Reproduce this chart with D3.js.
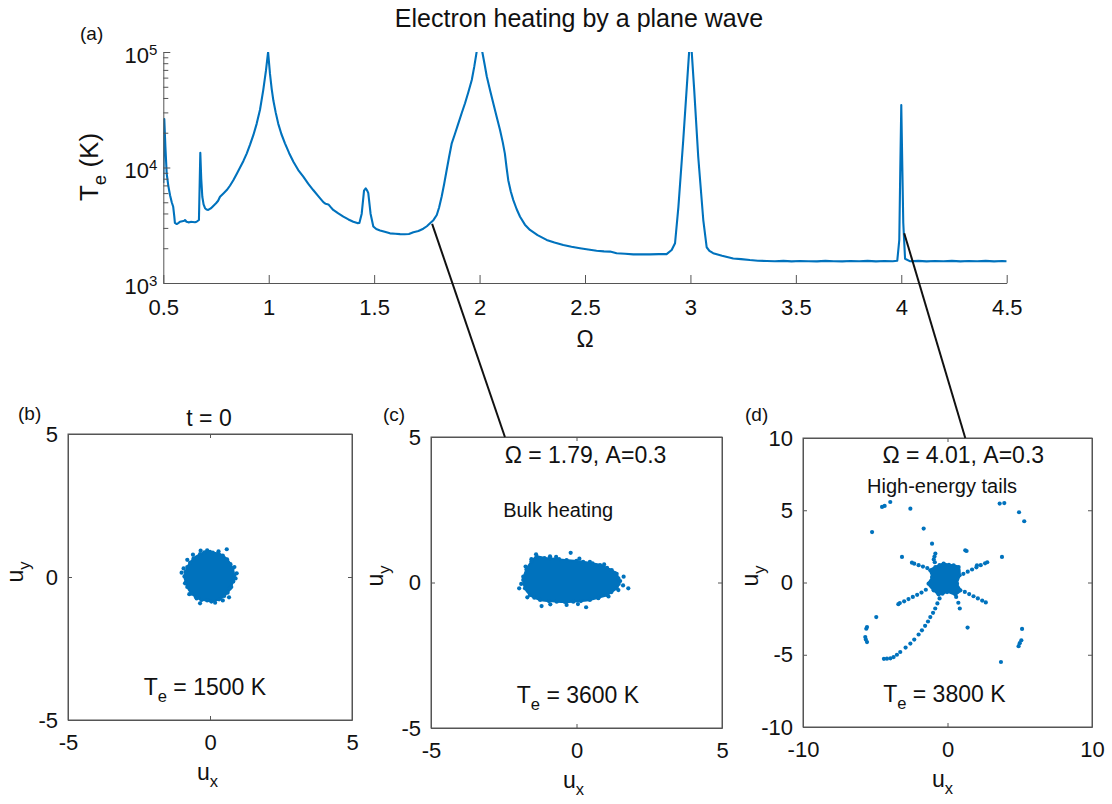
<!DOCTYPE html>
<html><head><meta charset="utf-8">
<script src="https://cdn.jsdelivr.net/npm/d3@7"></script>
<style>
body{margin:0;background:#fff}
svg text{font-family:"Liberation Sans",Arial,Helvetica,sans-serif;fill:#111}
</style>
</head><body>
<svg id="chart" width="1112" height="804"></svg>
<script>
// ---------------- data: panel (a) ----------------
const omega = [0.500,0.5047,0.510,0.516,0.524,0.532,0.540,0.547,0.552,0.555,0.5636,0.571,0.579,0.590,0.600,0.603,0.610,0.619,0.630,0.640,0.650,0.658,0.669,0.6755,0.680,0.685,0.691,0.698,0.705,0.713,0.725,0.737,0.750,0.760,0.769,0.785,0.801,0.816,0.832,0.848,0.864,0.880,0.8955,0.911,0.927,0.943,0.9586,0.974,0.987,0.997,1.006,1.014,1.022,1.033,1.045,1.060,1.077,1.097,1.117,1.140,1.164,1.187,1.211,1.235,1.259,1.270,1.283,1.292,1.306,1.330,1.354,1.378,1.401,1.420,1.430,1.441,1.452,1.460,1.466,1.472,1.483,1.496,1.510,1.528,1.550,1.575,1.600,1.623,1.645,1.665,1.686,1.710,1.733,1.750,1.765,1.781,1.797,1.808,1.820,1.832,1.844,1.856,1.868,1.883,1.899,1.915,1.931,1.947,1.963,1.975,1.986,2.000,2.013,2.024,2.034,2.050,2.065,2.081,2.097,2.110,2.120,2.128,2.136,2.148,2.160,2.176,2.192,2.215,2.239,2.275,2.318,2.355,2.397,2.436,2.476,2.515,2.555,2.590,2.619,2.650,2.690,2.729,2.770,2.808,2.850,2.887,2.911,2.927,2.943,2.966,2.985,2.995,3.005,3.018,3.037,3.061,3.077,3.090,3.108,3.150,3.203,3.240,3.282,3.320,3.362,3.400,3.441,3.480,3.520,3.560,3.600,3.640,3.680,3.720,3.760,3.800,3.840,3.880,3.920,3.960,3.981,3.9906,3.995,4.000,4.005,4.0095,4.018,4.040,4.080,4.120,4.160,4.200,4.240,4.280,4.320,4.360,4.400,4.440,4.480,4.500];
const tempK = [7350,26300,15000,8900,6900,5750,5000,4570,3800,3310,3240,3300,3390,3430,3460,3510,3390,3350,3380,3370,3360,3390,3510,13400,7940,5580,4800,4440,4330,4290,4420,4650,4900,5150,5580,5960,6380,6950,7760,8800,10000,11400,13200,15700,19050,24000,31600,46800,69200,100000,64600,48000,38000,30000,24000,19500,16200,13300,11200,9500,8320,7250,6380,5650,5010,4850,4790,4580,4290,4000,3750,3550,3390,3300,3310,3980,6310,6610,6350,6030,3980,3090,2930,2850,2780,2690,2670,2650,2640,2660,2750,2820,2950,3100,3290,3500,3880,4500,5580,7200,9510,12500,16200,19500,24000,29500,36000,45000,57300,75000,100000,135000,100000,78000,61700,46500,36000,27500,21100,16500,13200,10000,7760,6200,5220,4350,3750,3200,2880,2600,2360,2240,2130,2060,2000,1950,1905,1880,1870,1810,1790,1770,1775,1770,1780,1780,1930,2210,4570,17300,57300,108000,108000,46800,12400,3510,2040,1900,1810,1720,1630,1610,1580,1560,1550,1545,1555,1540,1550,1545,1540,1555,1545,1540,1550,1545,1555,1540,1550,1545,1560,2360,8910,34700,10000,3310,1620,1545,1555,1540,1550,1545,1555,1540,1550,1545,1555,1540,1550,1545];
const xTicksA = [0.5,1,1.5,2,2.5,3,3.5,4,4.5];
const yTicksA = [1e3,1e4,1e5];
const yMinorA = [2e3,3e3,4e3,5e3,6e3,7e3,8e3,9e3,2e4,3e4,4e4,5e4,6e4,7e4,8e4,9e4];
// connector anchors: [omega, Te] on panel (a) -> [ux, uy] on target panel
const link1From = [1.775, 3250], link1To = [-2.46, 5];
const link2From = [4.014, 2700], link2To = [1.23, 10];

// ---------------- data: panel (b) ----------------
const ticksB = [-5,0,5];
const bCloud = [[0.85,0.05],[0.8,0.3],[0.72,0.45],[0.6,0.62],[0.45,0.75],[0.3,0.82],[0.1,0.85],[0.0,0.88],[-0.2,0.86],[-0.35,0.8],[-0.58,0.65],[-0.7,0.5],[-0.8,0.35],[-0.86,0.18],[-0.9,0.02],[-0.85,-0.2],[-0.8,-0.35],[-0.65,-0.58],[-0.5,-0.7],[-0.3,-0.8],[-0.1,-0.82],[0.05,-0.86],[0.32,-0.78],[0.5,-0.66],[0.62,-0.55],[0.75,-0.35],[0.8,-0.15]];
const bDots = [[-1.0,0.15],[-0.33,0.92],[0.59,0.97],[0.94,0.13],[0.82,-0.16],[0.7,-0.4],[0.67,-0.71],[-0.35,-0.92],[0.18,-0.9],[-0.88,-0.22],[-0.73,-0.6],[-0.47,-0.75],[-0.8,0.6],[0.3,0.9],[-0.1,0.93],[0.86,0.35],[0.9,-0.05],[-0.93,0.3],[-0.6,0.78],[0.45,-0.82]];

// ---------------- data: panel (c) ----------------
const ticksC = [-5,0,5];
const cCloud = [[-1.83,0.09],[-1.72,0.45],[-1.55,0.72],[-1.37,0.89],[-1.1,0.84],[-0.91,0.83],[-0.6,0.8],[-0.34,0.77],[0.0,0.74],[0.23,0.71],[0.55,0.66],[0.81,0.6],[1.05,0.5],[1.21,0.43],[1.38,0.3],[1.44,0.14],[1.45,-0.05],[1.38,-0.2],[1.2,-0.33],[1.04,-0.43],[0.75,-0.52],[0.46,-0.6],[0.15,-0.64],[-0.11,-0.66],[-0.4,-0.67],[-0.68,-0.66],[-0.95,-0.64],[-1.25,-0.6],[-1.45,-0.52],[-1.6,-0.43],[-1.77,-0.2]];
const cDots = [[-1.97,-0.2],[1.78,-0.2],[-0.2,1.02],[-1.39,0.97],[-0.91,0.9],[0.33,-0.85],[-0.34,-0.77],[-1.2,-0.81],[-1.69,-0.51],[1.44,-0.26],[1.5,0.05],[1.32,0.32],[0.75,-0.54],[-1.83,0.2],[0.46,0.71],[-1.9,-0.05],[1.6,-0.1],[-1.55,0.8],[-0.7,0.88],[0.1,0.82],[0.95,0.62],[-0.9,-0.75],[0.05,-0.74],[1.1,-0.48],[-1.75,0.55],[1.62,0.2]];

// ---------------- data: panel (d) ----------------
const xTicksD = [-10,0,10];
const yTicksD = [-10,-5,0,5,10];
const dCloud = [[-0.84,1.07],[-0.55,1.2],[-0.27,1.31],[0.1,1.22],[0.42,1.19],[0.77,1.07],[0.84,0.5],[0.66,-0.08],[0.89,-0.54],[0.54,-0.82],[-0.03,-0.66],[-0.35,-0.78],[-0.62,-0.82],[-0.96,-0.54],[-1.31,-0.08],[-1.07,0.38],[-1.19,0.84]];
const dDots = [
  // up-left arm
  [-1.4,1.0],[-1.7,1.1],[-2.0,1.2],[-2.3,1.3],[-2.46,1.37],
  // up arm
  [-0.84,2.0],[-0.9,1.8],[-0.95,1.6],[-0.88,1.4],
  // right arm
  [1.1,0.6],[1.4,0.75],[1.7,0.9],[2.0,1.05],[2.04,1.19],[2.3,1.2],[2.6,1.33],[2.75,1.4],
  // down-left arm
  [-1.5,-0.5],[-1.8,-0.7],[-2.1,-0.85],[-2.4,-1.0],[-2.7,-1.15],[-3.0,-1.3],[-3.3,-1.42],[-3.4,-1.5],
  // down-right arm
  [1.2,-0.65],[1.5,-0.8],[1.8,-0.95],[2.1,-1.1],[2.4,-1.25],[2.65,-1.38],
  // short down arm
  [0.6,-1.0],[0.75,-1.4],[0.85,-1.8],
  // long curved arm
  [-0.55,-1.1],[-0.7,-1.45],[-0.85,-1.8],[-1.0,-2.1],[-1.19,-2.39],[-1.35,-2.7],[-1.55,-3.0],[-1.77,-3.31],[-2.0,-3.6],[-2.3,-3.95],[-2.57,-4.23],[-2.9,-4.5],[-3.27,-4.81],[-3.5,-5.0],[-3.73,-5.16],[-3.95,-5.25],[-4.19,-5.27],[-4.4,-5.28],
  // isolated particles
  [-4.53,5.23],[-4.35,5.3],[-3.96,5.57],[-2.57,5.11],[-5.22,3.49],[-1.65,3.73],[-1.07,2.69],[-3.15,1.77],
  [1.23,2.23],[1.32,2.18],[3.77,1.77],[3.61,5.46],[3.93,5.5],[4.95,4.86],[5.31,4.24],
  [-4.93,-2.39],[-5.57,-3.08],[-5.62,-3.2],[-5.69,-3.77],[-5.65,-3.95],[-5.57,-4.12],
  [1.39,-3.12],[5.16,-3.21],[5.11,-4.0],[5.0,-4.2],[4.92,-4.41],[3.7,-5.5]
];

// ---------------- drawing ----------------
const svg = d3.select("#chart");
const blue = "#0072BD";
const axisCol = "#555";
const tickFont = 22;
const plainFmt = d => String(d);

function styleAxis(g){
  g.selectAll("path.domain").attr("stroke",axisCol).attr("stroke-width",1);
  g.selectAll(".tick line").attr("stroke",axisCol).attr("stroke-width",1);
  g.selectAll(".tick text").attr("font-size",tickFont).attr("fill","#1a1a1a")
    .style("font-family",'"Liberation Sans",Arial,sans-serif');
  g.attr("font-family",null).attr("font-size",null);
}

// subscripted text helper
function subText(parent, x, y, main, sub, size, rest, anchor, rotate){
  const t = parent.append("text").attr("font-size",size).attr("text-anchor",anchor||"start");
  if(rotate){ t.attr("transform",`translate(${x},${y}) rotate(-90)`); }
  else { t.attr("x",x).attr("y",y); }
  const dsub = Math.round(size*0.3);
  t.append("tspan").text(main);
  t.append("tspan").attr("font-size",size*0.72).attr("dy",dsub).text(sub);
  if(rest){ t.append("tspan").attr("dy",-dsub).text(rest); }
  return t;
}

// ===== panel (a) =====
const A = {l:163.3, r:1006.7, t:52, b:283};
const xA = d3.scaleLinear().domain([0.5,4.5]).range([A.l,A.r]);
const yA = d3.scaleLog().domain([1e3,1e5]).range([A.b,A.t]);

svg.append("defs").append("clipPath").attr("id","clipA")
  .append("rect").attr("x",A.l).attr("y",A.t).attr("width",A.r-A.l).attr("height",A.b-A.t);

const gA = svg.append("g");
gA.append("path").datum(d3.zip(omega,tempK))
  .attr("clip-path","url(#clipA)")
  .attr("fill","none").attr("stroke",blue).attr("stroke-width",2.1)
  .attr("stroke-linejoin","round")
  .attr("d", d3.line().x(d=>xA(d[0])).y(d=>yA(d[1])));

const axXA = gA.append("g").attr("transform",`translate(0,${A.b})`)
  .call(d3.axisBottom(xA).tickValues(xTicksA).tickFormat(plainFmt).tickSizeInner(-8).tickSizeOuter(0).tickPadding(16));
styleAxis(axXA);

const axYA = gA.append("g").attr("transform",`translate(${A.l},0)`)
  .call(d3.axisLeft(yA).tickValues(yTicksA).tickFormat("").tickSizeInner(-7).tickSizeOuter(0));
styleAxis(axYA);
const axYAm = gA.append("g").attr("transform",`translate(${A.l},0)`)
  .call(d3.axisLeft(yA).tickValues(yMinorA).tickFormat("").tickSizeInner(-5).tickSizeOuter(0));
axYAm.select("path.domain").remove();
styleAxis(axYAm);

yTicksA.forEach(v=>{
  const t = gA.append("text").attr("x",A.l-6).attr("y",yA(v)+10.5)
    .attr("text-anchor","end").attr("font-size",22).attr("fill","#1a1a1a");
  t.append("tspan").text("10");
  t.append("tspan").attr("font-size",15).attr("dy",-8).text(Math.round(Math.log10(v)));
});

svg.append("text").attr("x",579).attr("y",27).attr("text-anchor","middle")
  .attr("font-size",25).text("Electron heating by a plane wave");
svg.append("text").attr("x",80).attr("y",40).attr("font-size",19).text("(a)");
svg.append("text").attr("x",585).attr("y",347).attr("text-anchor","middle")
  .attr("font-size",23).text("Ω");
subText(svg, 98, 167, "T", "e", 26, " (K)", "middle", true);

// ===== scatter panels =====
function panel(cfg){
  const x = d3.scaleLinear().domain(cfg.dom).range([cfg.l,cfg.r]);
  const y = d3.scaleLinear().domain(cfg.dom).range([cfg.b,cfg.t]);
  const g = svg.append("g");
  g.append("rect").attr("x",cfg.l).attr("y",cfg.t).attr("width",cfg.r-cfg.l).attr("height",cfg.b-cfg.t)
    .attr("fill","#fff").attr("stroke",axisCol).attr("stroke-width",1);
  // cloud
  g.append("path").datum(cfg.cloud)
    .attr("fill",blue).attr("stroke",blue).attr("stroke-width",2)
    .attr("d", d3.line().curve(d3.curveCatmullRomClosed).x(d=>x(d[0])).y(d=>y(d[1])));
  g.selectAll("circle.v").data(cfg.cloud.concat(cfg.dots)).join("circle")
    .attr("cx",d=>x(d[0])).attr("cy",d=>y(d[1])).attr("r",2.1).attr("fill",blue);
  // axes
  const ab = g.append("g").attr("transform",`translate(0,${cfg.b})`)
    .call(d3.axisBottom(x).tickValues(cfg.xt).tickFormat(plainFmt).tickSizeInner(-4).tickSizeOuter(0).tickPadding(14));
  styleAxis(ab);
  const at = g.append("g").attr("transform",`translate(0,${cfg.t})`)
    .call(d3.axisTop(x).tickValues(cfg.xt).tickFormat("").tickSizeInner(-4).tickSizeOuter(0));
  styleAxis(at);
  const al = g.append("g").attr("transform",`translate(${cfg.l},0)`)
    .call(d3.axisLeft(y).tickValues(cfg.yt).tickFormat(plainFmt).tickSizeInner(-4).tickSizeOuter(0).tickPadding(10));
  styleAxis(al);
  const ar = g.append("g").attr("transform",`translate(${cfg.r},0)`)
    .call(d3.axisRight(y).tickValues(cfg.yt).tickFormat("").tickSizeInner(-4).tickSizeOuter(0));
  styleAxis(ar);
  // labels
  subText(g, cfg.uxX, cfg.uxY, "u", "x", 23, null, "start", false);
  subText(g, cfg.uyX, cfg.uyY, "u", "y", 23, null, "middle", true);
  g.append("text").attr("x",cfg.letter[0]).attr("y",cfg.letter[1]).attr("font-size",19).text(cfg.name);
  return {x,y,g};
}

const PB = panel({name:"(b)", letter:[18,420], dom:[-5,5], l:68, r:352, t:434, b:720,
  xt:ticksB, yt:ticksB, cloud:bCloud, dots:bDots, uxX:197, uxY:780, uyX:23, uyY:572});
const PC = panel({name:"(c)", letter:[383,421], dom:[-5,5], l:431, r:722, t:437, b:728,
  xt:ticksC, yt:ticksC, cloud:cCloud, dots:cDots, uxX:563, uxY:788, uyX:383, uyY:576});
const PD = panel({name:"(d)", letter:[745,421], dom:[-10,10], l:803, r:1092, t:438, b:727,
  xt:xTicksD, yt:yTicksD, cloud:dCloud, dots:dDots, uxX:932, uxY:787, uyX:758, uyY:576});

// annotations
svg.append("text").attr("x",209).attr("y",426).attr("text-anchor","middle").attr("font-size",23).text("t = 0");
subText(PB.g, PB.x(-0.18), PB.y(-4.13), "T", "e", 23, " = 1500 K", "middle", false);

PC.g.append("text").attr("x",PC.x(0.31)).attr("y",PC.y(4.1)).attr("text-anchor","middle").attr("font-size",23).text("Ω = 1.79, A=0.3");
PC.g.append("text").attr("x",PC.x(-2.52)).attr("y",PC.y(2.26)).attr("font-size",20).text("Bulk heating");
subText(PC.g, PC.x(0.05), PC.y(-4.15), "T", "e", 23, " = 3600 K", "middle", false);

PD.g.append("text").attr("x",PD.x(1.09)).attr("y",PD.y(8.27)).attr("text-anchor","middle").attr("font-size",23).text("Ω = 4.01, A=0.3");
PD.g.append("text").attr("x",PD.x(-5.57)).attr("y",PD.y(6.17)).attr("font-size",20).text("High-energy tails");
subText(PD.g, PD.x(-0.22), PD.y(-8.27), "T", "e", 23, " = 3800 K", "middle", false);

// connectors
svg.append("line").attr("x1",xA(link1From[0])).attr("y1",yA(link1From[1]))
  .attr("x2",PC.x(link1To[0])).attr("y2",PC.y(link1To[1]))
  .attr("stroke","#111").attr("stroke-width",2);
svg.append("line").attr("x1",xA(link2From[0])).attr("y1",yA(link2From[1]))
  .attr("x2",PD.x(link2To[0])).attr("y2",PD.y(link2To[1]))
  .attr("stroke","#111").attr("stroke-width",2);
</script>
</body></html>
